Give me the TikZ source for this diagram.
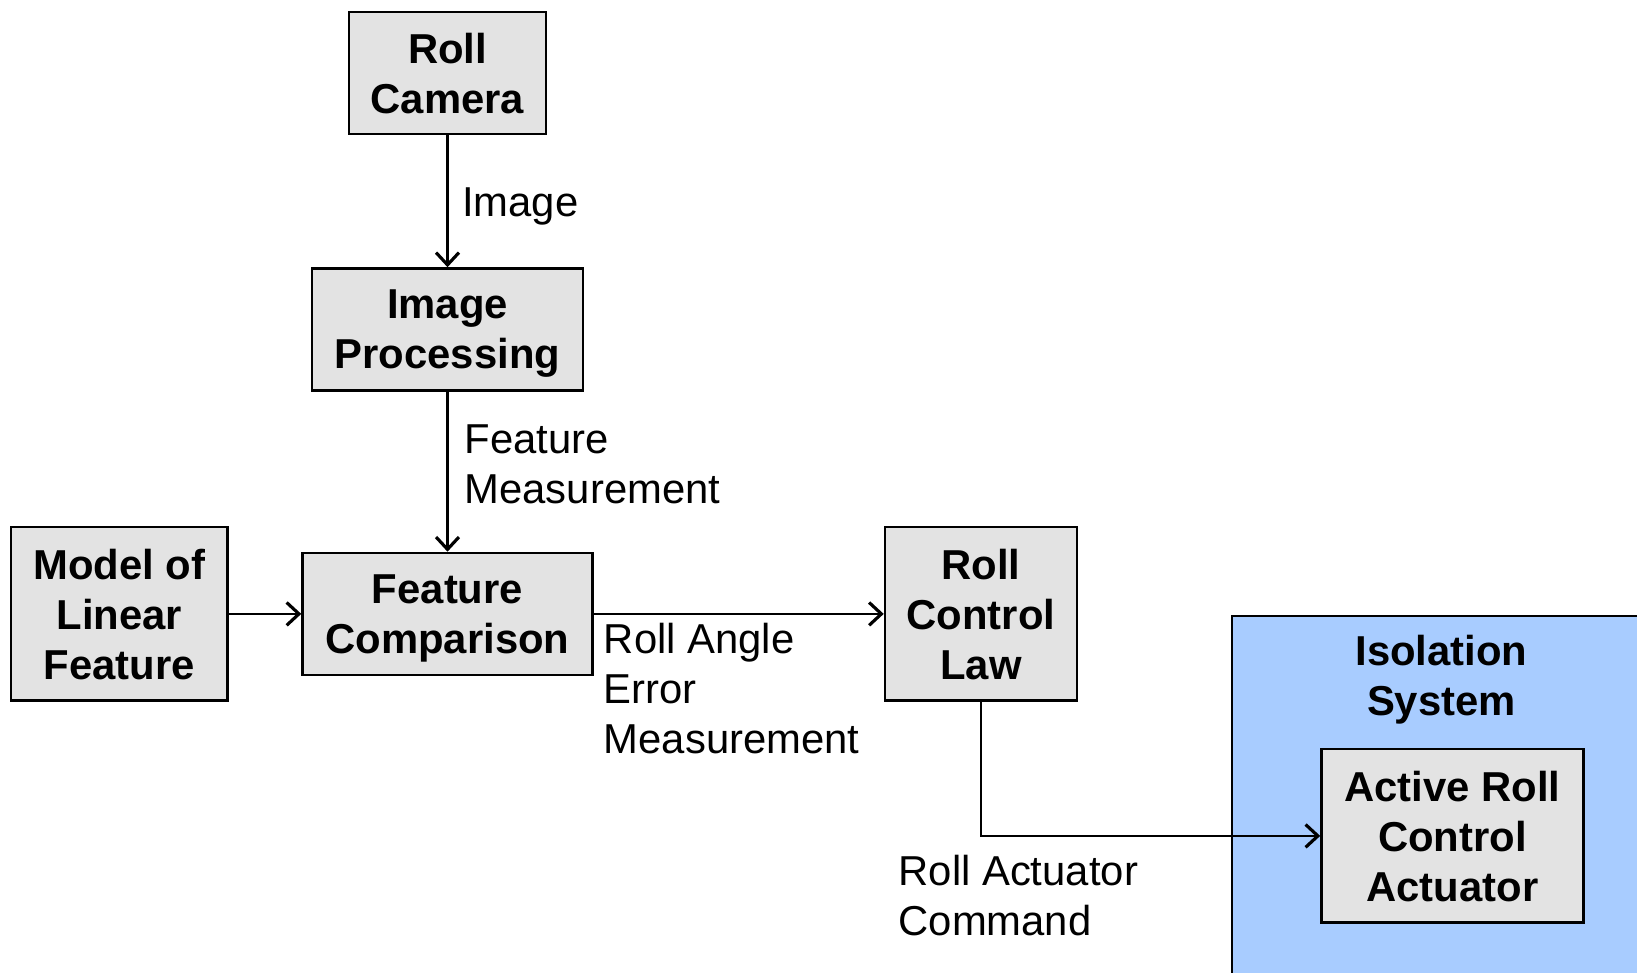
\documentclass[tikz,border=0pt]{standalone}
\usepackage{fontspec}
\setmainfont{Liberation Sans}
\usepackage{xcolor}
\definecolor{boxgray}{RGB}{227, 227, 227}
\definecolor{isoblue}{RGB}{168, 204, 255}
\usetikzlibrary{
    arrows.meta,
    positioning,
    calc,
    backgrounds
}

\begin{document}
\begin{tikzpicture}[
    >={Straight Barb[length=7pt, width=13pt, line width=1.8pt]},
    node distance=2.64cm and 1.5cm,
    bigfont/.style={font=\fontsize{23.8}{28.45}\selectfont},
    box/.style={draw=black, line width=1.4pt, fill=boxgray, inner sep=4pt, align=center, text depth=0pt, minimum height=2.44cm, font=\fontsize{23.8}{28.45}\selectfont\bfseries},
    tallbox/.style={box, minimum height=3.47cm},
    isobox/.style={draw=black, line width=1.4pt, fill=isoblue},
    isotitle/.style={align=center, font=\fontsize{23.8}{28.45}\selectfont\bfseries},
    lbl/.style={align=left, bigfont},
    arrow/.style={draw=black, line width=1.4pt, ->}
]
\useasboundingbox (0,0) rectangle (32.74,19.46);

% ==================== CAMERA & IMAGE PROCESSING ====================
\node[box, minimum width=3.94cm] (cam) at (8.95,18.0) {Roll\\Camera};
\node[box, minimum width=5.42cm, below=2.64cm of cam] (imgproc) {Image\\Processing};
\draw[arrow] (cam) -- node[lbl, right, xshift=0.15cm, yshift=-0.1cm] {Image} (imgproc);

% ==================== FEATURE COMPARISON ====================
\node[box, minimum width=5.8cm, below=3.2cm of imgproc] (featcmp) {Feature\\Comparison};
\node[tallbox, minimum width=4.33cm, left=1.45cm of featcmp] (model) {Model of\\Linear\\Feature};
\draw[arrow] (imgproc) -- node[lbl, right, xshift=0.2cm, yshift=0.15cm] {Feature\\Measurement} (featcmp);
\draw[arrow] (model) -- (featcmp);

% ==================== CONTROL LAW ====================
\node[tallbox, minimum width=3.84cm, right=5.8cm of featcmp] (ctrllaw) {Roll\\Control\\Law};
\draw[arrow] (featcmp) -- node[lbl, anchor=north west, pos=0, xshift=0.06cm, yshift=-0.05cm] {Roll Angle\\Error\\Measurement} (ctrllaw);

% ==================== ISOLATION SYSTEM ====================
\node[tallbox, minimum width=5.24cm, right=4.84cm of ctrllaw, yshift=-4.44cm] (actuator) {Active Roll\\Control\\Actuator};
\begin{scope}[on background layer]
    \clip (0,0) rectangle (32.74,19.46);
    \draw[isobox] ($(actuator.north west)+(-1.76,2.64)$) rectangle (33.5,-0.5);
\end{scope}
\node[isotitle] (isotitle) at ($(actuator.north)+(-0.22,1.36)$) {Isolation\\System};

\draw[arrow] (ctrllaw) |- node[lbl, below, pos=0.555, yshift=-0.25cm] {Roll Actuator\\Command} (actuator);

\end{tikzpicture}
\end{document}
